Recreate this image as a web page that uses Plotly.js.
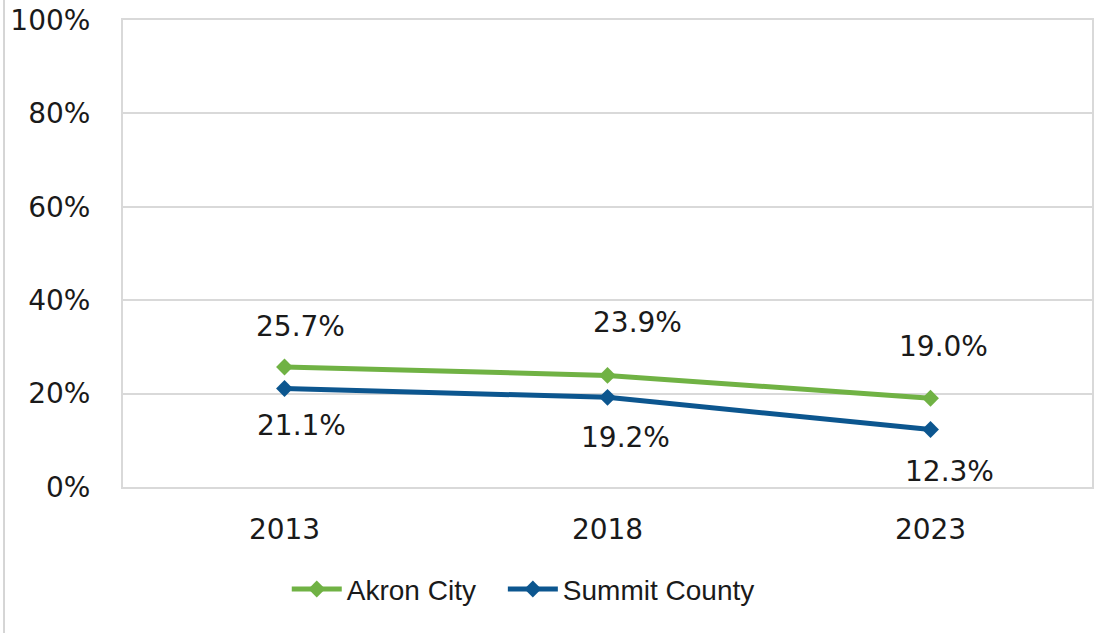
<!DOCTYPE html>
<html>
<head>
<meta charset="utf-8">
<script src="https://cdn.plot.ly/plotly-3.0.1.min.js"></script>
<style>
  html, body { margin: 0; padding: 0; background: #fff; }
  #chart { width: 1094px; height: 633px; }
</style>
</head>
<body>
<div id="chart"></div>
<script>
// ---- data ----
const years = ['2013', '2018', '2023'];
const akronCity = [25.7, 23.9, 19.0];
const summitCounty = [21.1, 19.2, 12.3];
const seriesNames = ['Akron City', 'Summit County'];
const yTickValues = [0, 20, 40, 60, 80, 100];
const yTickLabels = ['0%', '20%', '40%', '60%', '80%', '100%'];

// ---- label placement (style, not data) ----
const akronLabelShiftX = [16, 30, 13];
const akronLabelShiftY = [40, 53, 52];
const summitLabelShiftX = [17, 18, 19];
const summitLabelShiftY = [-37, -40, -42];

const green = '#70B244';
const blue = '#0C568F';
const numFont = '"DejaVu Sans", Arial, sans-serif';
const txtFont = '"Liberation Sans", Arial, Helvetica, sans-serif';
const txt = '#1a1a1a';

const traces = [
  {
    x: years, y: akronCity, name: seriesNames[0], type: 'scatter', mode: 'lines+markers',
    line: { color: green, width: 5 },
    marker: { symbol: 'diamond', size: 13, color: green },
    hoverinfo: 'skip', legend: 'legend'
  },
  {
    x: years, y: summitCounty, name: seriesNames[1], type: 'scatter', mode: 'lines+markers',
    line: { color: blue, width: 5 },
    marker: { symbol: 'diamond', size: 13, color: blue },
    hoverinfo: 'skip', legend: 'legend2'
  }
];

const annotations = [];
for (let i = 0; i < years.length; i++) {
  annotations.push({
    x: i, y: akronCity[i], xref: 'x', yref: 'y',
    text: akronCity[i].toFixed(1) + '%', showarrow: false,
    xshift: akronLabelShiftX[i], yshift: akronLabelShiftY[i],
    font: { family: numFont, size: 28, color: txt }
  });
  annotations.push({
    x: i, y: summitCounty[i], xref: 'x', yref: 'y',
    text: summitCounty[i].toFixed(1) + '%', showarrow: false,
    xshift: summitLabelShiftX[i], yshift: summitLabelShiftY[i],
    font: { family: numFont, size: 28, color: txt }
  });
}

const legendBase = {
  orientation: 'h', xanchor: 'left', y: -0.219, yanchor: 'middle',
  font: { family: txtFont, size: 28, color: txt },
  itemwidth: 50, bgcolor: 'rgba(0,0,0,0)'
};

const layout = {
  width: 1094, height: 633,
  margin: { l: 123, r: 2, t: 20, b: 146 },
  paper_bgcolor: '#ffffff', plot_bgcolor: '#ffffff',
  font: { family: txtFont, size: 28, color: txt },
  showlegend: true,
  legend: Object.assign({}, legendBase, { x: 0.169 }),
  legend2: Object.assign({}, legendBase, { x: 0.392 }),
  xaxis: {
    type: 'category', range: [-0.5, 2.5],
    showgrid: false, zeroline: false,
    showline: true, linecolor: '#d9d9d9', linewidth: 2, mirror: true,
    ticks: 'outside', ticklen: 16, tickcolor: 'rgba(0,0,0,0)',
    tickfont: { family: numFont, size: 28, color: txt },
    fixedrange: true
  },
  yaxis: {
    range: [0, 100], tickmode: 'array', tickvals: yTickValues, ticktext: yTickLabels,
    showgrid: true, gridcolor: '#d9d9d9', gridwidth: 2,
    zeroline: false,
    showline: true, linecolor: '#d9d9d9', linewidth: 2, mirror: true,
    ticks: 'outside', ticklen: 25, tickcolor: 'rgba(0,0,0,0)',
    tickfont: { family: numFont, size: 28, color: txt },
    fixedrange: true
  },
  annotations: annotations,
  shapes: [
    { type: 'line', xref: 'paper', yref: 'paper', x0: -0.1228, x1: -0.1228, y0: -0.33, y1: 1.05,
      line: { color: '#c8c8c8', width: 1.5 } }
  ]
};

Plotly.newPlot('chart', traces, layout, { displayModeBar: false, staticPlot: true });
</script>
</body>
</html>
